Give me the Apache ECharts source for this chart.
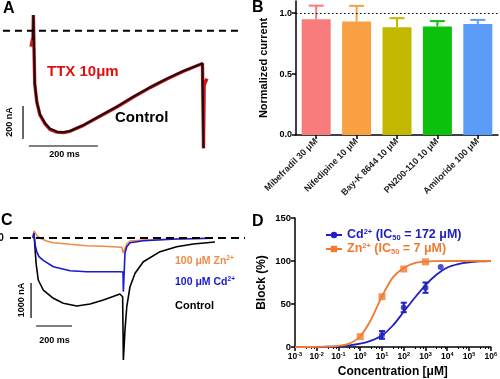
<!DOCTYPE html>
<html><head><meta charset="utf-8">
<script src="https://cdn.jsdelivr.net/npm/echarts@6/dist/echarts.min.js"></script>
<style>html,body{margin:0;padding:0;background:#fff}#c{width:500px;height:379px}</style>
</head><body><div id="c"></div>
<script>
// ---------- Panel A: Na current traces (time ms, current nA) ----------
const aControlT = [0, 1, 3, 5, 11, 20, 35, 49, 69, 88, 107, 146, 194, 243, 291, 339, 388, 436, 484, 491, 494];
const aControlI = [-60, 95, -117, -319, -430, -507, -561, -594, -612, -616, -608, -572, -517, -461, -400, -343, -291, -244, -204, -198, -713];
const aTtxT = [-6, 0, 1, 3, 5, 11, 20, 35, 49, 69, 88, 107, 146, 194, 243, 291, 339, 388, 436, 484, 491, 494, 496, 504];
const aTtxI = [-97, -40, 95, -120, -322, -433, -510, -565, -598, -615, -618, -610, -574, -519, -463, -402, -345, -293, -246, -205, -199, -713, -330, -290];

// ---------- Panel B: normalized current ----------
const bCategories = ['Mibefradil 30 μM', 'Nifedipine 10 μM', 'Bay-K 8644 10 μM', 'PN200-110 10 μM', 'Amiloride 100 μM'];
const bMeans = [0.951, 0.931, 0.885, 0.890, 0.912];
const bErrors = [0.111, 0.129, 0.074, 0.045, 0.033];
const bRefLine = 1.0;

// ---------- Panel C: Ca current traces (time ms, current nA) ----------
const cControlT = [0, 5, 17, 29, 57, 113, 168, 243, 317, 391, 483, 498, 502, 511, 521, 539, 567, 613, 706, 798, 891, 1011];
const cControlI = [0, 143, -723, -1200, -1486, -1723, -1866, -1943, -1886, -1771, -1600, -1677, -3486, -2629, -1963, -1391, -1009, -677, -391, -249, -171, -114];
const cCdT = [0, 5, 12, 20, 33, 57, 113, 206, 298, 483, 500, 502, 511, 521, 539, 613, 798, 1000];
const cCdI = [0, 143, -200, -380, -530, -640, -820, -934, -963, -963, -971, -1534, -429, -249, -134, -77, -29, -9];
const cZnT = [0, 5, 20, 39, 76, 113, 206, 298, 389, 493, 498, 502, 511, 521, 539, 613, 798, 983];
const cZnI = [0, 200, 86, -9, -86, -134, -180, -220, -237, -266, -270, -429, -286, -171, -86, -57, -29, -9];

// ---------- Panel D: concentration-response ----------
const dCurveConc = [0.001, 0.00316, 0.01, 0.0316, 0.1, 0.316, 1, 3.16, 10, 31.6, 100, 316, 1000, 3160, 10000, 31600, 100000, 316000, 1000000];
const dZnCurve = [0, 0, 0.1, 0.4, 1.3, 4, 12.5, 32, 59, 81, 92, 97.5, 99.3, 99.8, 100, 100, 100, 100, 100];
const dCdCurve = [0, 0, 0.1, 0.3, 0.8, 1.8, 3.8, 7.5, 13.5, 25, 41, 57, 72, 84, 92.5, 96.5, 98.5, 99.5, 100];
const dZnConc = [1, 10, 100, 1000];
const dZnBlock = [12, 58.5, 90.7, 99];
const dCdConc = [10, 100, 1000, 5000];
const dCdBlock = [14, 46, 69, 93];
const dCdErr = [4.5, 5.5, 6, 0];

// ---------- styling ----------
const FF = 'Liberation Sans, Arial, Helvetica, sans-serif';
const barColors = ['#F87C7C', '#F9A042', '#C2B800', '#0CC00C', '#5A9CF8'];
const BLUE_D = '#2020C0', ORANGE_D = '#F07A30';
const BLUE_C = '#1818D0', ORANGE_C = '#F08A45';

const zip = (a, b) => a.map((v, i) => [v, b[i]]);

function errRender(colorFn, capHalf, both) {
  return function (params, api) {
    const x = api.value(0), lo = api.value(1), hi = api.value(2);
    const p1 = api.coord([x, lo]), p2 = api.coord([x, hi]);
    const stroke = colorFn(params.dataIndex);
    const ch = [
      {type: 'line', shape: {x1: p1[0], y1: p1[1], x2: p2[0], y2: p2[1]}, style: {stroke, lineWidth: 2}},
      {type: 'line', shape: {x1: p2[0] - capHalf, y1: p2[1], x2: p2[0] + capHalf, y2: p2[1]}, style: {stroke, lineWidth: 2}}
    ];
    if (both) ch.push({type: 'line', shape: {x1: p1[0] - capHalf, y1: p1[1], x2: p1[0] + capHalf, y2: p1[1]}, style: {stroke, lineWidth: 2}});
    return {type: 'group', children: ch};
  };
}

// scale bars (anchor in data units + bar lengths)
const scaleA = {t: -29, i: -456, tx: -12, iy: -699, len: 200, ilen: 200};
const scaleC = {t: -11, i: -1286, tx: 17, iy: -2514, len: 200, ilen: 1000};

const lineBase = {type: 'line', symbol: 'none', silent: true, animation: false};
const ax = (i) => ({xAxisIndex: i, yAxisIndex: i});

const series = [
  // ----- A -----
  Object.assign({}, lineBase, ax(0), {data: zip(aTtxT, aTtxI), lineStyle: {color: '#D8141B', width: 3.4}, z: 2}),
  Object.assign({}, lineBase, ax(0), {data: zip(aControlT, aControlI), lineStyle: {color: '#111', width: 2}, z: 3}),
  Object.assign({}, lineBase, ax(0), {data: [[-87, 0], [594, 0]], lineStyle: {color: '#000', width: 2, type: [7, 5]}, z: 4}),
  Object.assign({}, lineBase, ax(0), {data: [[scaleA.t, scaleA.i], [scaleA.t, scaleA.i - scaleA.ilen]], lineStyle: {color: '#000', width: 1.2}}),
  Object.assign({}, lineBase, ax(0), {data: [[scaleA.tx, scaleA.iy], [scaleA.tx + scaleA.len, scaleA.iy]], lineStyle: {color: '#000', width: 1.2}}),
  // ----- B -----
  {
    type: 'bar', xAxisIndex: 1, yAxisIndex: 1, barWidth: 29, animation: false, silent: true, z: 3,
    data: bMeans.map((v, i) => ({value: v, itemStyle: {color: barColors[i]}})),
    markLine: {silent: true, symbol: 'none', label: {show: false}, animation: false,
      lineStyle: {color: '#000', type: [1.5, 2.5], width: 1.2}, data: [{yAxis: bRefLine}]}
  },
  {
    type: 'custom', xAxisIndex: 1, yAxisIndex: 1, animation: false, silent: true, z: 2,
    renderItem: errRender(i => barColors[i], 7.5, false),
    data: bMeans.map((v, i) => [i, v, v + bErrors[i]])
  },
  // ----- C -----
  Object.assign({}, lineBase, ax(2), {data: zip(cControlT, cControlI), lineStyle: {color: '#000', width: 1.6}, z: 2}),
  Object.assign({}, lineBase, ax(2), {data: zip(cZnT, cZnI), lineStyle: {color: ORANGE_C, width: 1.6}, z: 3}),
  Object.assign({}, lineBase, ax(2), {data: zip(cCdT, cCdI), lineStyle: {color: BLUE_C, width: 1.6}, z: 4}),
  Object.assign({}, lineBase, ax(2), {data: [[-128, 0], [1178, 0]], lineStyle: {color: '#000', width: 2, type: [8, 5]}, z: 5}),
  Object.assign({}, lineBase, ax(2), {data: [[scaleC.t, scaleC.i], [scaleC.t, scaleC.i - scaleC.ilen]], lineStyle: {color: '#000', width: 1.2}}),
  Object.assign({}, lineBase, ax(2), {data: [[scaleC.tx, scaleC.iy], [scaleC.tx + scaleC.len, scaleC.iy]], lineStyle: {color: '#000', width: 1.2}}),
  // ----- D -----
  {name: 'Cd', type: 'line', xAxisIndex: 3, yAxisIndex: 3, data: zip(dCurveConc, dCdCurve), smooth: 0.3,
    symbol: 'circle', showSymbol: false, animation: false, silent: true, color: BLUE_D, lineStyle: {color: BLUE_D, width: 1.8}, z: 2},
  {name: 'Zn', type: 'line', xAxisIndex: 3, yAxisIndex: 3, data: zip(dCurveConc, dZnCurve), smooth: 0.3,
    symbol: 'rect', showSymbol: false, animation: false, silent: true, color: ORANGE_D, lineStyle: {color: ORANGE_D, width: 1.8}, z: 2},
  {name: 'Cd points', type: 'scatter', xAxisIndex: 3, yAxisIndex: 3, data: zip(dCdConc, dCdBlock), symbol: 'circle', symbolSize: 6,
    itemStyle: {color: BLUE_D}, animation: false, silent: true, z: 4},
  {name: 'Zn points', type: 'scatter', xAxisIndex: 3, yAxisIndex: 3, data: zip(dZnConc, dZnBlock), symbol: 'rect', symbolSize: 7,
    itemStyle: {color: ORANGE_D}, animation: false, silent: true, z: 4},
  {type: 'custom', xAxisIndex: 3, yAxisIndex: 3, animation: false, silent: true, z: 3,
    renderItem: errRender(() => BLUE_D, 3, true),
    data: dCdConc.map((c, i) => [c, dCdBlock[i] - dCdErr[i], dCdBlock[i] + dCdErr[i]]).filter((d, i) => dCdErr[i] > 0)}
];

const hiddenAxis = (min, max) => ({type: 'value', min, max, show: false});
const axLine = {show: true, lineStyle: {color: '#000', width: 1.5}};
const axTick = {show: true, inside: false, length: 4, lineStyle: {color: '#000', width: 1.5}};

// rich styles for ECharts labels (color) and for raw graphic text (fill)
const supRich = (color, base) => ({
  t: {fontFamily: FF, fontWeight: 'bold', fontSize: base, color, lineHeight: 14},
  s: {fontFamily: FF, fontWeight: 'bold', fontSize: base * 0.6, color, verticalAlign: 'top', lineHeight: 14, padding: [0, 0, 6, 0]},
  d: {fontFamily: FF, fontWeight: 'bold', fontSize: base * 0.6, color, verticalAlign: 'bottom', lineHeight: 14, padding: [5, 0, 0, 0]}
});
const supRichFill = (fill, base) => ({
  t: {font: 'bold ' + base + 'px ' + FF, fill, lineHeight: 13},
  s: {font: 'bold ' + (base * 0.62).toFixed(1) + 'px ' + FF, fill, verticalAlign: 'top', lineHeight: 13, padding: [0, 0, 5, 0]}
});

const option = {
  backgroundColor: '#fff',
  animation: false,
  textStyle: {fontFamily: FF},
  grid: [
    {left: 3, top: 5, width: 235, height: 155},
    {left: 296, top: 1, width: 202, height: 134},
    {left: 10, top: 215, width: 235, height: 155},
    {left: 295, top: 218, width: 196, height: 129}
  ],
  xAxis: [
    Object.assign(hiddenAxis(-87, 594), {gridIndex: 0}),
    {gridIndex: 1, type: 'category', data: bCategories, axisLine: axLine,
      axisTick: Object.assign({}, axTick, {alignWithLabel: true}),
      axisLabel: {rotate: 45, interval: 0, margin: 5, fontSize: 9, fontWeight: 'bold', color: '#222', fontFamily: FF}},
    Object.assign(hiddenAxis(-128, 1178), {gridIndex: 2}),
    {gridIndex: 3, type: 'log', logBase: 10, min: 0.001, max: 1000000, interval: 1, splitLine: {show: false},
      axisLine: axLine, axisTick: axTick, minorTick: {show: true, splitNumber: 4, length: 2, lineStyle: {color: '#000', width: 1}},
      name: 'Concentration [μM]', nameLocation: 'middle', nameGap: 19,
      nameTextStyle: {fontSize: 12, fontWeight: 'bold', color: '#000', fontFamily: FF},
      axisLabel: {margin: 4, color: '#000',
        formatter: v => '{b|10}{s|' + Math.round(Math.log10(v)) + '}',
        rich: {b: {fontSize: 8.5, fontWeight: 'bold', fontFamily: FF, color: '#000', lineHeight: 11},
               s: {fontSize: 5.5, fontWeight: 'bold', fontFamily: FF, color: '#000', verticalAlign: 'top', lineHeight: 11, padding: [0, 0, 4, 0]}}}}
  ],
  yAxis: [
    Object.assign(hiddenAxis(-784, 156), {gridIndex: 0}),
    {gridIndex: 1, type: 'value', min: 0, max: 1.1, interval: 0.5, splitLine: {show: false},
      axisLine: axLine, axisTick: Object.assign({}, axTick, {customValues: [0, 0.5, 1]}),
      axisLabel: {customValues: [0, 0.5, 1], formatter: v => v.toFixed(1), fontSize: 9, fontWeight: 'bold', color: '#000', margin: 4, fontFamily: FF},
      name: 'Normalized current', nameLocation: 'middle', nameGap: 27,
      nameTextStyle: {fontSize: 11, fontWeight: 'bold', color: '#000', fontFamily: FF}},
    Object.assign(hiddenAxis(-3771, 657), {gridIndex: 2}),
    {gridIndex: 3, type: 'value', min: 0, max: 150, interval: 50, splitLine: {show: false},
      axisLine: axLine, axisTick: axTick,
      axisLabel: {fontSize: 9.5, fontWeight: 'bold', color: '#000', margin: 4, fontFamily: FF},
      name: 'Block (%)', nameLocation: 'middle', nameGap: 27,
      nameTextStyle: {fontSize: 12, fontWeight: 'bold', color: '#000', fontFamily: FF}}
  ],
  legend: {
    left: 320, top: 223, orient: 'vertical', itemWidth: 16, itemHeight: 8, itemGap: 0, selectedMode: false,
    data: ['Cd', 'Zn'],
    formatter: n => n === 'Cd'
      ? '{bt|Cd}{bs|2+}{bt| (IC}{bd|50}{bt| = 172 μM)}'
      : '{ot|Zn}{os|2+}{ot| (IC}{od|50}{ot| = 7 μM)}',
    textStyle: {rich: (function () {
      const b = supRich(BLUE_D, 12.5), o = supRich(ORANGE_D, 12.5);
      return {bt: b.t, bs: b.s, bd: b.d, ot: o.t, os: o.s, od: o.d};
    })()}
  },
  graphic: [
    {type: 'text', x: 3, y: 1, style: {text: 'A', font: 'bold 16px ' + FF, fill: '#000'}},
    {type: 'text', x: 252, y: 0, style: {text: 'B', font: 'bold 16px ' + FF, fill: '#000'}},
    {type: 'text', x: 1, y: 213, style: {text: 'C', font: 'bold 16px ' + FF, fill: '#000'}},
    {type: 'text', x: 252, y: 214, style: {text: 'D', font: 'bold 16px ' + FF, fill: '#000'}},
    {type: 'text', x: 47, y: 72, style: {text: 'TTX 10μm', font: 'bold 15px ' + FF, fill: '#E01010', verticalAlign: 'middle'}},
    {type: 'text', x: 115, y: 118, style: {text: 'Control', font: 'bold 15px ' + FF, fill: '#000', verticalAlign: 'middle'}},
    {type: 'text', x: 64.5, y: 155, style: {text: '200 ms', font: 'bold 9px ' + FF, fill: '#000', align: 'center', verticalAlign: 'middle'}},
    {type: 'text', x: 10, y: 122, rotation: Math.PI / 2, style: {text: '200 nA', font: 'bold 9px ' + FF, fill: '#000', align: 'center', verticalAlign: 'middle'}},
    {type: 'text', x: 54.5, y: 341, style: {text: '200 ms', font: 'bold 9px ' + FF, fill: '#000', align: 'center', verticalAlign: 'middle'}},
    {type: 'text', x: 22, y: 300, rotation: Math.PI / 2, style: {text: '1000 nA', font: 'bold 9px ' + FF, fill: '#000', align: 'center', verticalAlign: 'middle'}},
    {type: 'text', x: 1, y: 238, style: {text: '0', font: 'bold 10px ' + FF, fill: '#000', align: 'center', verticalAlign: 'middle'}},
    {type: 'text', x: 175, y: 261, style: {text: '{t|100 μM Zn}{s|2+}', fill: ORANGE_C, verticalAlign: 'middle', rich: supRichFill(ORANGE_C, 10.5)}},
    {type: 'text', x: 175, y: 282.5, style: {text: '{t|100 μM Cd}{s|2+}', fill: BLUE_C, verticalAlign: 'middle', rich: supRichFill(BLUE_C, 10.5)}},
    {type: 'text', x: 175, y: 306, style: {text: 'Control', font: 'bold 11px ' + FF, fill: '#000', verticalAlign: 'middle'}}
  ],
  series
};

const chart = echarts.init(document.getElementById('c'), null, {renderer: 'canvas'});
chart.setOption(option);
</script>
</body></html>
